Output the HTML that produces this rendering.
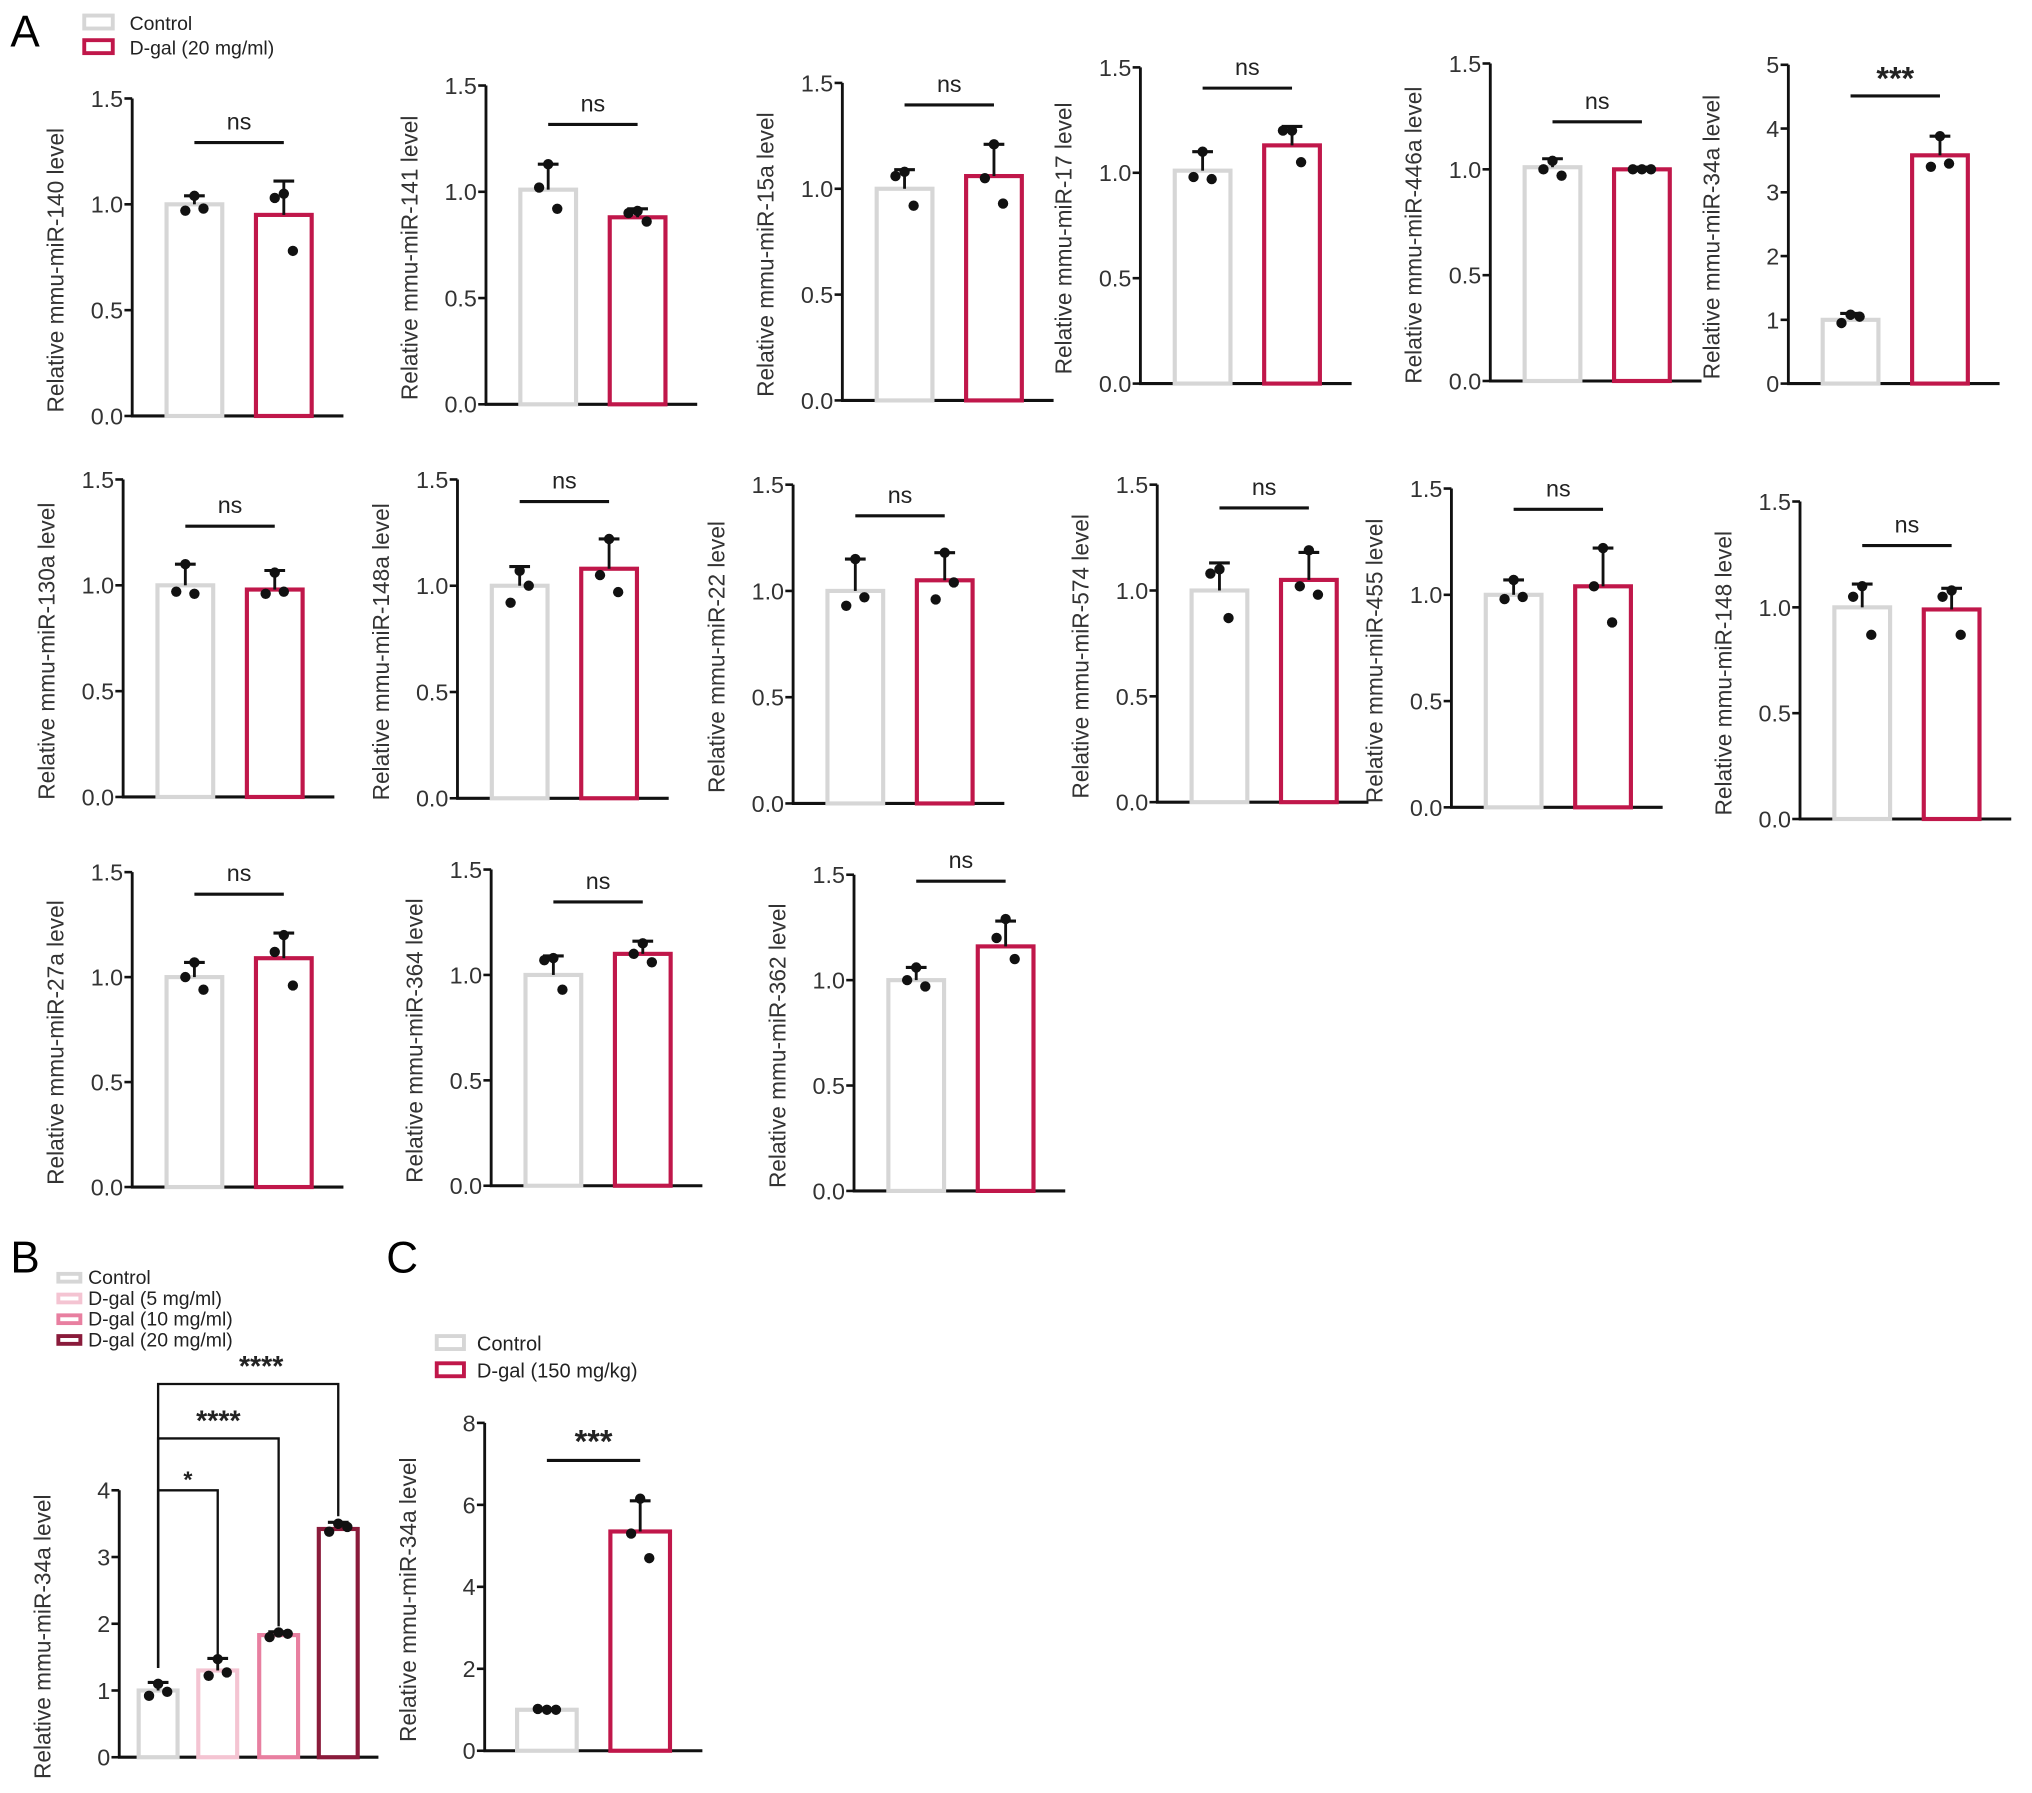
<!DOCTYPE html>
<html><head><meta charset="utf-8"><style>
html,body{margin:0;padding:0;background:#fff;}
svg{display:block;font-family:"Liberation Sans",Arial,sans-serif;}
</style></head><body>
<svg id="fig" width="2032" height="1793" viewBox="0 0 1568 1383.6" xmlns="http://www.w3.org/2000/svg">
<text x="8" y="36" font-size="34">A</text>
<g>
<rect x="65" y="12" width="22" height="10" fill="none" stroke="#d6d6d6" stroke-width="3"/>
<text x="100" y="23" font-size="15" fill="#222">Control</text>
<rect x="65" y="31" width="22" height="10" fill="none" stroke="#c0174a" stroke-width="3"/>
<text x="100" y="42" font-size="15" fill="#222">D-gal (20 mg/ml)</text>
</g>
<text x="8" y="982" font-size="34">B</text>
<g>
<rect x="45" y="983" width="17" height="6" fill="none" stroke="#d6d6d6" stroke-width="3"/>
<text x="68" y="991" font-size="15" fill="#222">Control</text>
<rect x="45" y="999" width="17" height="6" fill="none" stroke="#f4c4d2" stroke-width="3"/>
<text x="68" y="1007" font-size="15" fill="#222">D-gal (5 mg/ml)</text>
<rect x="45" y="1015" width="17" height="6" fill="none" stroke="#e87fa0" stroke-width="3"/>
<text x="68" y="1023" font-size="15" fill="#222">D-gal (10 mg/ml)</text>
<rect x="45" y="1031" width="17" height="6" fill="none" stroke="#8a1b3b" stroke-width="3"/>
<text x="68" y="1039" font-size="15" fill="#222">D-gal (20 mg/ml)</text>
</g>
<text x="298" y="982" font-size="34">C</text>
<g>
<rect x="337" y="1031" width="21" height="10" fill="none" stroke="#d6d6d6" stroke-width="3"/>
<text x="368" y="1042" font-size="15.5" fill="#222">Control</text>
<rect x="337" y="1052" width="21" height="10" fill="none" stroke="#c0174a" stroke-width="3"/>
<text x="368" y="1063" font-size="15.5" fill="#222">D-gal (150 mg/kg)</text>
</g>
</svg>
<script>
// ---- data ----
const panelNames = ["140","141","15a","17","446a","34a","130a","148a","22","574","455","148","27a","364","362"];
const controlMeans = [1.00,1.01,1.00,1.01,1.01,1.00,1.00,1.00,1.00,1.00,1.00,1.00,1.00,1.00,1.00];
const dgalMeans    = [0.95,0.88,1.06,1.13,1.00,3.58,0.98,1.08,1.05,1.05,1.04,0.99,1.09,1.10,1.16];
const controlErr   = [1.04,1.13,1.09,1.10,1.05,1.10,1.10,1.09,1.15,1.13,1.07,1.11,1.07,1.09,1.06];
const dgalErr      = [1.11,0.92,1.21,1.22,1.01,3.88,1.07,1.22,1.18,1.18,1.22,1.09,1.21,1.16,1.28];
const controlPts = [[1.04,0.97,0.98],[1.13,1.02,0.92],[1.08,1.06,0.92],[1.10,0.98,0.97],[1.04,1.00,0.97],[1.08,0.95,1.05],[1.10,0.97,0.96],[1.07,0.92,1.00],[1.15,0.93,0.97],[1.10,1.08,0.87],[1.07,0.98,0.99],[1.10,1.05,0.87],[1.07,1.00,0.94],[1.08,1.07,0.93],[1.06,1.00,0.97]];
const dgalPts = [[1.05,1.03,0.78],[0.91,0.90,0.86],[1.21,1.05,0.93],[1.20,1.20,1.05],[1.00,1.00,1.00],[3.88,3.40,3.45],[1.06,0.96,0.97],[1.22,1.05,0.97],[1.18,0.96,1.04],[1.19,1.02,0.98],[1.22,1.04,0.87],[1.08,1.05,0.87],[1.20,1.12,0.96],[1.15,1.10,1.06],[1.29,1.20,1.10]];
const sigLabels = ["ns","ns","ns","ns","ns","***","ns","ns","ns","ns","ns","ns","ns","ns","ns"];
const ticks15 = ["0.0","0.5","1.0","1.5"];
const ticks5 = ["0","1","2","3","4","5"];
// panel B
const bGroups = ["Control","D-gal (5 mg/ml)","D-gal (10 mg/ml)","D-gal (20 mg/ml)"];
const bMeans = [1.00,1.30,1.83,3.42];
const bErr = [1.12,1.48,1.88,3.52];
const bPts = [[1.10,0.92,0.98],[1.47,1.22,1.27],[1.87,1.80,1.85],[3.50,3.38,3.45]];
const bSig = ["*","****","****"];
const bTicks = ["0","1","2","3","4"];
// panel C
const cMeans = [1.00,5.35];
const cErr = [1.02,6.10];
const cPts = [[1.00,1.02,1.00],[6.15,5.30,4.70]];
const cTicks = ["0","2","4","6","8"];

// ---- layout (positions) ----
const layout = [
 {ax:102,y0:321,yt:76,sig:110},{ax:375,y0:312,yt:66,sig:96},{ax:650,y0:309,yt:64,sig:81},
 {ax:880,y0:296,yt:52,sig:68},{ax:1150,y0:294,yt:49,sig:94},{ax:1380,y0:296,yt:50,sig:74},
 {ax:95,y0:615,yt:370,sig:406},{ax:353,y0:616,yt:370,sig:387},{ax:612,y0:620,yt:374,sig:398},
 {ax:893,y0:619,yt:374,sig:392},{ax:1120,y0:623,yt:377,sig:393},{ax:1389,y0:632,yt:387,sig:421},
 {ax:102,y0:916,yt:673,sig:690},{ax:379,y0:915,yt:671,sig:696},{ax:659,y0:919,yt:675,sig:680}];
const svg = document.getElementById('fig');
const NS='http://www.w3.org/2000/svg';
function mk(tag, attrs, parent){const e=document.createElementNS(NS,tag);for(const k in attrs)e.setAttribute(k,attrs[k]);(parent||svg).appendChild(e);return e;}
const GREY='#d6d6d6', RED='#c0174a';
const jitter=[0,-7,7];

function drawAxes(g, ax, y0, yt, tickLabels, maxV, xlen, ylabel){
  const sy = v => y0 - (v/maxV)*(y0-yt);
  const yl = mk('line',{x1:ax,y1:y0,x2:ax,y2:yt,stroke:'#111','stroke-width':2.2},g);
  
  
  const xl = mk('line',{x1:ax-1,y1:y0,x2:ax+xlen,y2:y0,stroke:'#111','stroke-width':2.4},g);
  
  
  tickLabels.forEach((t,i)=>{
    const v = maxV*i/(tickLabels.length-1);
    const y=sy(v);
    const tk=mk('line',{x1:ax-6,y1:y,x2:ax,y2:y,stroke:'#111','stroke-width':2},g);
    
    
    const tl=mk('text',{x:ax-7,y:y+6.5,'font-size':18,'text-anchor':'end',fill:'#333'},g);
    tl.textContent=t;
    
    
  });
  const cy=(y0+yt)/2+10;
  const lab=mk('text',{x:0,y:0,'font-size':17.5,'text-anchor':'middle',fill:'#333',transform:`translate(${ax-53},${cy}) rotate(-90)`},g);
  lab.textContent=ylabel;
  
  
  return sy;
}
function drawBar(g, cx, w, mean, err, pts, color, sy, y0, name){
  const r=mk('rect',{x:cx-w/2,y:sy(mean),width:w,height:y0-sy(mean),fill:'#fff',stroke:color,'stroke-width':3.2},g);
  
  
  const e=mk('line',{x1:cx,y1:sy(mean),x2:cx,y2:sy(err),stroke:'#111','stroke-width':2.2},g);
  
  
  const c=mk('line',{x1:cx-8,y1:sy(err),x2:cx+8,y2:sy(err),stroke:'#111','stroke-width':2.4},g);
  
  
  pts.forEach((p,i)=>{
    const d=mk('circle',{cx:cx+jitter[i],cy:sy(p),r:4,fill:'#111'},g);
    
    
  });
}
panelNames.forEach((nm,i)=>{
  const L=layout[i];
  const g=mk('g',{});
  
  
  const isBig = i===5;
  const maxV = isBig?5:1.5;
  const sy=drawAxes(g,L.ax,L.y0,L.yt,isBig?ticks5:ticks15,maxV,163,'Relative mmu-miR-'+nm+' level');
  const c1=L.ax+48, c2=L.ax+117, w=43;
  drawBar(g,c1,w,controlMeans[i],controlErr[i],controlPts[i],GREY,sy,L.y0,'bar-control');
  drawBar(g,c2,w,dgalMeans[i],dgalErr[i],dgalPts[i],RED,sy,L.y0,'bar-dgal');
  const sl=mk('line',{x1:c1,y1:L.sig,x2:c2,y2:L.sig,stroke:'#111','stroke-width':2.4},g);
  
  
  const st=mk('text',{x:(c1+c2)/2,y:sigLabels[i]==='ns'?L.sig-10:L.sig-5,'font-size':sigLabels[i]==='ns'?18:25,'text-anchor':'middle',fill:'#222','font-weight':sigLabels[i]==='ns'?'normal':'bold'},g);
  st.textContent=sigLabels[i];
  
  
});
// panel B
(function(){
  const g=mk('g',{});
  
  
  const ax=92,y0=1356,yt=1150;
  const sy=drawAxes(g,ax,y0,yt,bTicks,4,200,'Relative mmu-miR-34a level');
  const cols=[GREY,'#f4c4d2','#e87fa0','#8a1b3b'];
  const cx=[122,168,215,261];
  bMeans.forEach((m,i)=>drawBar(g,cx[i],30,m,bErr[i],bPts[i],cols[i],sy,y0,'bar-b-'+i));
  const tops=[1150,1110,1068];
  const ends=[1282,1255,1170];
  bSig.forEach((s,i)=>{
    const x2=cx[i+1];
    const p=mk('polyline',{points:`${cx[0]},${1287} ${cx[0]},${tops[i]} ${x2},${tops[i]} ${x2},${ends[i]}`,fill:'none',stroke:'#111','stroke-width':1.8},g);
    
    
    const t=mk('text',{x:i===0?145:(cx[0]+x2)/2+ (i===2?10:0),y:tops[i]-(i===0?2:6),'font-size':i===0?18:22,'text-anchor':'middle','font-weight':'bold',fill:'#222'},g);
    t.textContent=s;
    
    
  });
})();
// panel C
(function(){
  const g=mk('g',{});
  
  
  const ax=374,y0=1351,yt=1098;
  const sy=drawAxes(g,ax,y0,yt,cTicks,8,168,'Relative mmu-miR-34a level');
  drawBar(g,422,46,cMeans[0],cErr[0],cPts[0],GREY,sy,y0,'bar-control');
  drawBar(g,494,46,cMeans[1],cErr[1],cPts[1],RED,sy,y0,'bar-dgal');
  const sl=mk('line',{x1:422,y1:1127,x2:494,y2:1127,stroke:'#111','stroke-width':2.4},g);
  
  
  const st=mk('text',{x:458,y:1121,'font-size':25,'text-anchor':'middle','font-weight':'bold',fill:'#222'},g);
  st.textContent='***';
  
  
})();
</script>
</body></html>
